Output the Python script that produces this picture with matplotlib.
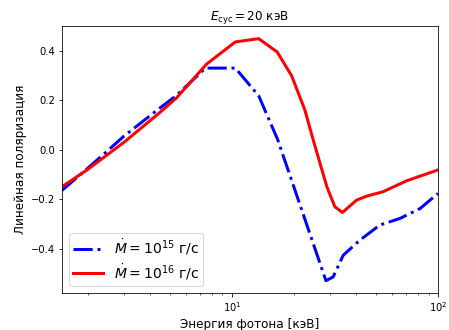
import matplotlib.pyplot as plt

# Ecyc = 20 keV, two accretion rates
e_blue = [1.5, 2.0, 2.47, 3.0, 4.47, 5.4, 7.45, 10.4, 13.5, 16.7, 28.6, 31.0, 34.7, 41.8, 52.2, 65.5, 81.9, 100.0]
pol_blue = [-0.165, -0.075, -0.008, 0.055, 0.168, 0.22, 0.33, 0.33, 0.218, 0.04, -0.53, -0.515, -0.427, -0.366, -0.305, -0.278, -0.238, -0.177]

e_red = [1.5, 2.0, 3.0, 4.47, 5.4, 7.54, 10.4, 13.5, 16.6, 19.5, 22.6, 24.8, 28.9, 31.6, 34.4, 40.3, 45.1, 54.2, 70.4, 100.0]
pol_red = [-0.15, -0.08, 0.03, 0.15, 0.21, 0.346, 0.436, 0.449, 0.395, 0.299, 0.161, 0.04, -0.15, -0.231, -0.254, -0.204, -0.188, -0.17, -0.126, -0.082]

fig, ax = plt.subplots(figsize=(449 / 72, 330 / 72), dpi=72)
ax.plot(e_blue, pol_blue, 'b-.', lw=3, label=r'$\dot{M}=10^{15}$ г/с')
ax.plot(e_red, pol_red, 'r-', lw=3, label=r'$\dot{M}=10^{16}$ г/с')

ax.set_xscale('log')
ax.set_xlim(1.5, 100)
ax.set_ylim(-0.58, 0.5)
ax.set_yticks([-0.4, -0.2, 0.0, 0.2, 0.4])
ax.tick_params(labelsize=10)
ax.set_xlabel('Энергия фотона [кэВ]', fontsize=12)
ax.set_ylabel('Линейная поляризация', fontsize=12)
ax.set_title(r'$E_{\rm cyc}=20$ кэВ', fontsize=12)
ax.legend(loc='lower left', fontsize=14, labelspacing=0.35, borderpad=0.3,
          handlelength=2.1)

fig.subplots_adjust(left=0.138, right=0.9755, top=0.921, bottom=0.112)
fig.savefig('out.png')
